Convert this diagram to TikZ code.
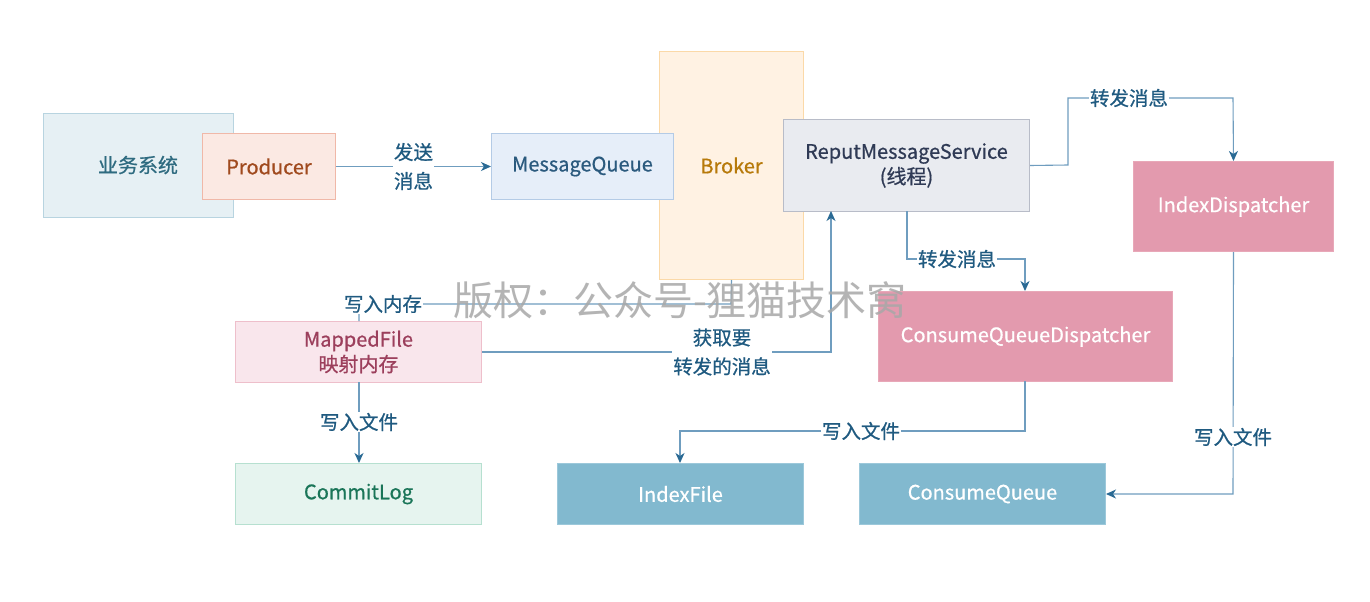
\documentclass[tikz,border=0pt]{standalone}
\usepackage{fontspec}
\setmainfont{Noto Sans CJK SC}[FakeBold=0.7]
\usetikzlibrary{arrows.meta}
\definecolor{lnc}{HTML}{6F9DBF}
\definecolor{arc}{HTML}{2A6A94}
\definecolor{lbc}{HTML}{1F5A80}
\definecolor{ywF}{HTML}{E6F0F4}\definecolor{ywD}{HTML}{B8D4E0}\definecolor{ywT}{HTML}{2E6B80}
\definecolor{prF}{HTML}{FBE9E3}\definecolor{prD}{HTML}{F0B8A8}\definecolor{prT}{HTML}{A04A1E}
\definecolor{mqF}{HTML}{E6EEF9}\definecolor{mqD}{HTML}{B4CBE6}\definecolor{mqT}{HTML}{2B5A7E}
\definecolor{brF}{HTML}{FFF2E3}\definecolor{brD}{HTML}{FBD9A8}\definecolor{brT}{HTML}{B77A0A}
\definecolor{rpF}{HTML}{E9EBF0}\definecolor{rpD}{HTML}{B8BCC8}\definecolor{rpT}{HTML}{2F3A55}
\definecolor{pkF}{HTML}{E39AAE}\definecolor{pkD}{HTML}{E8A8B8}
\definecolor{mfF}{HTML}{F9E6EC}\definecolor{mfD}{HTML}{EEBFCB}\definecolor{mfT}{HTML}{9C3F5C}
\definecolor{clF}{HTML}{E6F4EF}\definecolor{clD}{HTML}{B6E0D0}\definecolor{clT}{HTML}{1A7558}
\definecolor{ifF}{HTML}{82B9CF}\definecolor{ifD}{HTML}{9CC8DA}
\definecolor{wmk}{HTML}{A8A8A8}
\tikzset{
  box/.style={draw, line width=1pt, inner sep=0pt, align=center, font=\fontsize{20}{25}\selectfont},
  conn/.style={draw=lnc, line width=1.1pt, -{Stealth[length=10pt,width=9pt,inset=3pt,color=arc]}},
  plain/.style={draw=lnc, line width=1.1pt},
  lbl/.style={fill=white, text=lbc, inner sep=1pt, align=center, font=\fontsize{19.5}{29}\selectfont},
}
\begin{document}
\begin{tikzpicture}[x=1pt,y=-1pt]
\useasboundingbox (0,0) rectangle (1370,602);
\fill[white] (0,0) rectangle (1370,602);
% boxes
\node[box, draw=ywD, fill=ywF, minimum width=190pt, minimum height=104pt, anchor=north west] (yw) at (43,113) {};
\node[text=ywT, font=\fontsize{20}{25}\selectfont] (ywt) at (138,165) {业务系统};
\node[box, draw=prD, fill=prF, text=prT, minimum width=133pt, minimum height=66pt, anchor=north west] (pr) at (202,133) {Producer};
\node[box, draw=brD, fill=brF, text=brT, minimum width=144pt, minimum height=228pt, anchor=north west] (br) at (659,51) {Broker};
\node[box, draw=mqD, fill=mqF, text=mqT, minimum width=182pt, minimum height=66pt, anchor=north west] (mq) at (491,133) {MessageQueue};
\node[box, draw=rpD, fill=rpF, text=rpT, minimum width=246pt, minimum height=92pt, anchor=north west] (rp) at (783,119) {ReputMessageService\\(线程)};
\node[box, draw=pkD, fill=pkF, text=white, minimum width=200pt, minimum height=90pt, anchor=north west] (id) at (1133,161) {IndexDispatcher};
\node[box, draw=pkD, fill=pkF, text=white, minimum width=294pt, minimum height=90pt, anchor=north west] (cqd) at (878,291) {ConsumeQueueDispatcher};
\node[box, draw=mfD, fill=mfF, text=mfT, minimum width=246pt, minimum height=61pt, anchor=north west] (mf) at (235,321) {MappedFile\\映射内存};
\node[box, draw=clD, fill=clF, text=clT, minimum width=246pt, minimum height=61pt, anchor=north west] (cl) at (235,463) {CommitLog};
\node[box, draw=ifD, fill=ifF, text=white, minimum width=246pt, minimum height=61pt, anchor=north west] (if) at (557,463) {IndexFile};
\node[box, draw=ifD, fill=ifF, text=white, minimum width=246pt, minimum height=61pt, anchor=north west] (cq) at (859,463) {ConsumeQueue};
% connectors
\draw[conn] (pr.east) -- node[lbl] {发送\\消息} (mq.west);
\coordinate (b1) at (731,304);
\draw[plain] (br.south) -- (b1) -- (359,304) -- (359,321);
\node[lbl] at (383,304) {写入内存};
\draw[conn] (mf.east) -- (831,352) -- (831,211);
\node[lbl] at (722,352) {获取要\\转发的消息};
\draw[conn] (907,211) -- (907,259) -- (1025,259) -- (1025,291);
\node[lbl] at (957,259) {转发消息};
\draw[conn] (rp.east) -- (1068,165) -- (1068,98) -- (1233,98) -- (id.north);
\node[lbl] at (1129,98) {转发消息};
\draw[conn] (1025,381) -- (1025,431) -- (680,431) -- (680,463);
\node[lbl] at (861,431) {写入文件};
\draw[conn] (id.south) -- (1233,494) -- (cq.east);
\node[lbl] at (1233,437) {写入文件};
\draw[conn] (359,382) -- (359,463);
\node[lbl] at (359,422) {写入文件};
% watermark
\node[text=wmk, opacity=0.85, font=\fontsize{40}{44}\selectfont\addfontfeatures{FakeBold=0}] (wm) at (680,300) {版权：公众号-狸猫技术窝};
\end{tikzpicture}
\end{document}
